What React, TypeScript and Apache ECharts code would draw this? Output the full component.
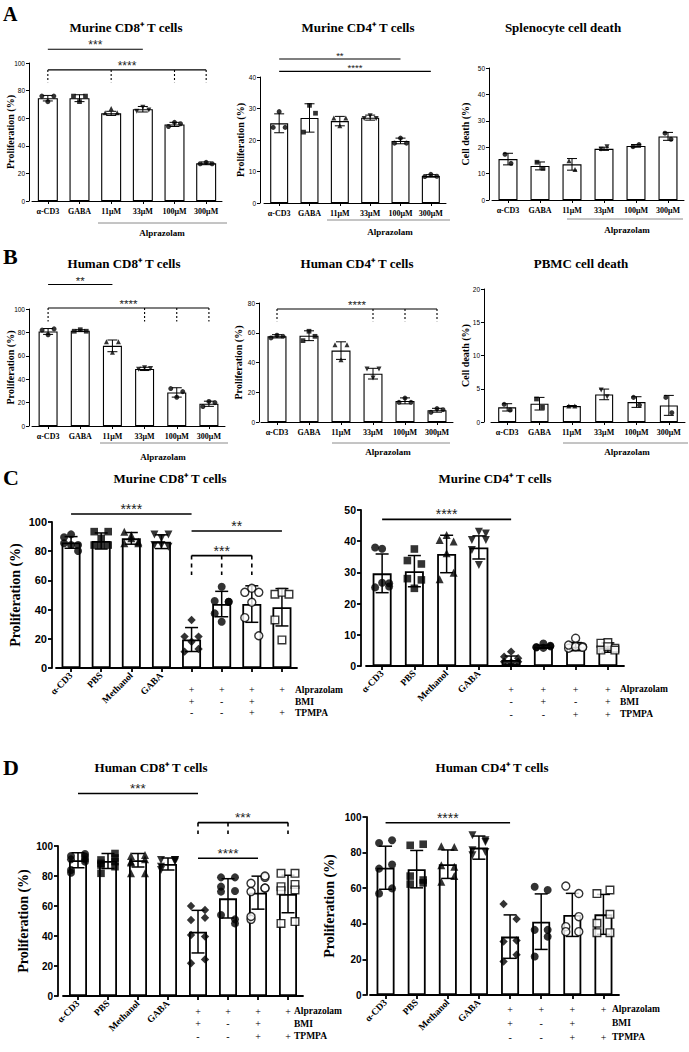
import React, { useEffect, useRef } from "react";
import * as echarts from "echarts";

// ---------------- categories & tick labels ----------------
const doseCategories = ["α-CD3", "GABA", "11μM", "33μM", "100μM", "300μM"];
const treatmentNames = ["α-CD3", "PBS", "Methanol", "GABA", "", "", "", ""];
const plusMinusC1 = ["", "", "", "", "+\n+\n-", "+\n-\n-", "+\n+\n+", "+\n \n+"];
const plusMinusC2 = ["", "", "", "", "+\n-\n-", "+\n+\n-", "+\n-\n+", "+\n+\n+"];
const plusMinusD = ["", "", "", "", "+\n+\n-", "+\n-\n-", "+\n+\n+", "+\n \n+"];
const tableRowNames = ["Alprazolam", "BMI", "TPMPA"];
const alprazolamLabel = "Alprazolam";

// ---------------- A: murine dose response ----------------
const murineCD8DoseMean = [74.5, 74.5, 63.5, 66.5, 55.5, 27.3];
const murineCD8DoseSd = [2, 2.5, 1.5, 2, 1.5, 1];
const murineCD8DosePoints = [[76, 72, 76], [76, 72, 76], [64, 67, 64], [65, 68, 66], [54, 57, 56], [27, 28, 27]];
const murineCD8DoseBrackets = [
  { from: 0, to: 3, y: 110, label: "***" },
  { from: 0, to: 5, y: 95, drops: [0, 2, 4, 5], dropTo: 86, label: "****" },
];

const murineCD4DoseMean = [25.3, 27, 26, 27.1, 19.7, 8.6];
const murineCD4DoseSd = [3, 4.5, 1.5, 0.8, 0.9, 0.4];
const murineCD4DosePoints = [[24, 29, 24], [22.5, 31, 28.5], [27, 24.5, 27], [26.8, 27.7, 26.8], [19, 20.6, 19], [8.4, 9.1, 8.5]];
const murineCD4DoseBrackets = [
  { from: 0, to: 4, y: 45.7, label: "**" },
  { from: 0, to: 5, y: 41.8, label: "****" },
];

const splenocyteDeathMean = [15.5, 12.9, 13.5, 19.4, 20.5, 24.1];
const splenocyteDeathSd = [2.2, 1.5, 2.2, 0.6, 0.5, 1.5];
const splenocyteDeathPoints = [[17.3, 13.9], [14.3, 12], [14.9, 11.6], [19.2, 20.2], [20.2, 21], [25.3, 23]];

// ---------------- B: human dose response ----------------
const humanCD8DoseMean = [80.8, 81.5, 68.5, 48.8, 28.7, 19];
const humanCD8DoseSd = [2.5, 0.8, 5, 1.4, 4, 2.2];
const humanCD8DosePoints = [[82, 78, 83], [81, 82.3, 81], [72, 63, 72], [48.6, 49.7, 49.1], [32, 24.6, 29.4], [16.6, 21, 20]];
const humanCD8DoseBrackets = [
  { from: 0, to: 2, y: 120.9, label: "**" },
  { from: 0, to: 5, y: 100.9, drops: [0, 3, 4, 5], dropTo: 89.4, label: "****" },
];

const humanCD4DoseMean = [57.6, 58, 48, 32.5, 14.2, 7.9];
const humanCD4DoseSd = [1.1, 3.3, 5.9, 3.6, 2, 1.3];
const humanCD4DosePoints = [[56.5, 58.3, 57.6], [54.7, 61, 57.6], [52, 41.9, 52], [35.6, 29.6, 35.6], [13.2, 16.1, 13.2], [6.5, 9, 8.3]];
const humanCD4DoseBrackets = [
  { from: 0, to: 5, y: 76, drops: [0, 3, 4, 5], dropTo: 67.7, label: "****" },
];

const pbmcDeathMean = [2.2, 2.75, 2.4, 4.15, 3.0, 2.5];
const pbmcDeathSd = [0.55, 0.95, 0.08, 0.8, 0.8, 1.5];
const pbmcDeathPoints = [[2.66, 1.8], [3.46, 2.2], [2.4, 2.4], [4.8, 3.8], [3.7, 2.55], [3.7, 1.4]];

// ---------------- C: murine, antagonists ----------------
const murineCD8TreatMean = [86, 87, 88.8, 86.5, 19.5, 43.8, 43.8, 41.6];
const murineCD8TreatSd = [4, 5.5, 4, 4.7, 8.2, 8.7, 12.5, 12.8];
const murineCD8TreatPoints = [
  [89.5, 91.5, 84.2, 85.4, 84.2, 80.1],
  [93.4, 88.8, 93.4, 84.2, 84.2, 84.2],
  [93.4, 91, 86.5, 85.4, 88.8, 85.4],
  [91.5, 88.8, 91.5, 84.2, 84.2, 83.1],
  [21.5, 32.9, 21.5, 11.2, 18, 13],
  [45.9, 55.7, 45.4, 37.4, 31.7, 45.4],
  [51.8, 54.6, 51.8, 34.5, 45, 22.1],
  [50.5, 51.8, 50.5, 32.9, 19.2],
];
const murineCD8TreatBrackets = [
  { from: 0, to: 4, y: 105.5, label: "****" },
  { from: 4, to: 7, y: 93.8, label: "**" },
  { from: 4, to: 6, y: 77, drops: [4, 5, 6], dropTo: 63.7, label: "***" },
];

const murineCD4TreatMean = [29.7, 30.4, 35.9, 38, 1.9, 6.2, 6.2, 5.9];
const murineCD4TreatSd = [6.2, 5, 6, 3.7, 1.3, 0.5, 1.3, 1.5];
const murineCD4TreatPoints = [
  [38, 37.6, 26.5, 25.2, 26.7, 25.5],
  [33.8, 37.5, 32.7, 28, 24.9, 27.6],
  [40.4, 42, 39.9, 27.8, 36.1, 29.9],
  [40.4, 43, 40.4, 37.2, 32.4, 42.5],
  [3, 4.6, 2.5, 1.4, 1.1, 1.4],
  [6, 7.2, 6.5, 6, 5.8, 6.3],
  [5.7, 8.9, 6.2, 6.7, 6.2, 6],
  [7.3, 7.5, 5.7, 5.1, 6.2, 5.1],
];
const murineCD4TreatBrackets = [{ from: 0, to: 4, y: 47, label: "****" }];

// ---------------- D: human, antagonists ----------------
const humanCD8TreatMean = [90.5, 90, 90.5, 88, 42.9, 65.1, 68.9, 68];
const humanCD8TreatSd = [5, 5, 4.5, 4, 14.2, 13.1, 11, 12.5];
const humanCD8TreatPoints = [
  [93.3, 94.7, 91.1, 89.6, 84, 91.1, 82.2, 93],
  [90.7, 95, 88.4, 89.6, 87.3, 86.2, 81.8, 92],
  [93.3, 94, 89.6, 91.1, 81.8, 81.8, 89],
  [90.7, 90.7, 86.2, 89.6, 84, 90.7],
  [60, 57.3, 50.7, 52.2, 40.7, 39.6, 21.8, 24.4],
  [79.1, 79.1, 72.9, 70, 69.6, 51.1, 54, 48.4],
  [75.1, 79.1, 69.6, 71.8, 51.1, 72, 53, 80],
  [81.8, 81.8, 72.9, 74.4, 70.2, 70.7, 48.4, 49.6],
];
const humanCD8TreatBrackets = [
  { from: 0, to: 4, y: 135, label: "***" },
  { from: 4, to: 7, y: 115.6, drops: [4, 5, 7], dropTo: 108, label: "***" },
  { from: 4, to: 6, y: 91.8, label: "****" },
];

const humanCD4TreatMean = [71.5, 70.7, 73.5, 82.8, 32.8, 41.2, 45, 45.3];
const humanCD4TreatSd = [12.1, 10.5, 8, 6.5, 12.2, 15.6, 12.1, 11.2];
const humanCD4TreatPoints = [
  [85.4, 86.9, 71, 73.3, 57, 59.9],
  [84.1, 84.7, 66.8, 64.6, 62.3, 63],
  [83.6, 83.2, 72.9, 72, 63.6, 66.8],
  [89.7, 86, 81.3, 87, 78.5, 80.4],
  [51.1, 42.7, 30, 30.6, 18.8, 22.6],
  [60.8, 59, 36.6, 36.6, 21.6, 32.8],
  [61.2, 57, 38.4, 44, 35.6, 35.6],
  [57, 59, 40.3, 45.3, 35, 35],
];
const humanCD4TreatBrackets = [{ from: 0, to: 4, y: 96.8, label: "****" }];

// ---------------- styling / layout ----------------
const SERIF = "'Liberation Serif', 'Times New Roman', serif";
const SANS = "'Liberation Sans', Arial, sans-serif";

const doseStyle = {
  axisWidth: 1, tickLen: 3, barBorder: 1.1, errWidth: 1, cap: 10, symbolSize: 5,
  tickFont: 6.5, tickWeight: "normal", xFont: 8, xMargin: 6, yMargin: 4, nameSize: 10,
  bracketWidth: 1.1, dash: [2, 2], starGap: 4,
};
const treatStyle = {
  axisWidth: 1.8, tickLen: 4, barBorder: 1.8, errWidth: 1.5, cap: 13, symbolSize: 8,
  tickFont: 11, tickWeight: "bold", xFont: 9.5, xMargin: 6, yMargin: 5, nameSize: 14,
  bracketWidth: 1.6, dash: [4, 4], starGap: 5,
};

const circle = { symbol: "circle" };
const square = { symbol: "rect", scale: 0.95 };
const tri = { symbol: "triangle" };
const triDown = { symbol: "triangle", rotate: 180 };
const diamond = { symbol: "diamond", scale: 1.05 };
const openCircle = { symbol: "circle", open: true };
const openSquare = { symbol: "rect", open: true, scale: 0.95 };
const doseSymbols = [circle, square, tri, triDown, circle, circle];
const treatSymbols = [circle, square, tri, triDown, diamond, circle, openCircle, openSquare];

const panels: any[] = [
  { kind: "dose", grid: { left: 32, top: 63, width: 190, height: 138 }, yOffset: 3, yMax: 100, yInterval: 20,
    yName: "Proliferation (%)", nameGap: 14, means: murineCD8DoseMean, sds: murineCD8DoseSd, points: murineCD8DosePoints,
    brackets: murineCD8DoseBrackets, jitter: [-6, 0, 6], barWidth: 20, starSize: 12 },
  { kind: "dose", grid: { left: 264, top: 77, width: 182, height: 126 }, yOffset: 4, yMax: 40, yInterval: 10,
    yName: "Proliferation (%)", nameGap: 15, means: murineCD4DoseMean, sds: murineCD4DoseSd, points: murineCD4DosePoints,
    brackets: murineCD4DoseBrackets, jitter: [-6, 0, 6], barWidth: 18, starSize: 9.5 },
  { kind: "dose", grid: { left: 492, top: 68, width: 192, height: 132 }, yOffset: 3, yMax: 50, yInterval: 10,
    yName: "Cell death (%)", nameGap: 19, means: splenocyteDeathMean, sds: splenocyteDeathSd, points: splenocyteDeathPoints,
    brackets: [], jitter: [-3, 3], barWidth: 19, starSize: 10 },
  { kind: "dose", grid: { left: 32, top: 309, width: 193, height: 117 }, yOffset: 3, yMax: 100, yInterval: 20,
    yName: "Proliferation (%)", nameGap: 14, means: humanCD8DoseMean, sds: humanCD8DoseSd, points: humanCD8DosePoints,
    brackets: humanCD8DoseBrackets, jitter: [-6, 0, 6], barWidth: 19, starSize: 11.5 },
  { kind: "dose", grid: { left: 261, top: 303, width: 192, height: 119 }, yOffset: 2, yMax: 80, yInterval: 20,
    yName: "Proliferation (%)", nameGap: 16, means: humanCD4DoseMean, sds: humanCD4DoseSd, points: humanCD4DosePoints,
    brackets: humanCD4DoseBrackets, jitter: [-6, 0, 6], barWidth: 19, starSize: 11.5 },
  { kind: "dose", grid: { left: 491, top: 289, width: 194, height: 133 }, yOffset: 7, yMax: 20, yInterval: 5,
    yName: "Cell death (%)", nameGap: 14, means: pbmcDeathMean, sds: pbmcDeathSd, points: pbmcDeathPoints,
    brackets: [], jitter: [-3, 3], barWidth: 18, starSize: 10 },
  { kind: "treat", grid: { left: 56, top: 522, width: 241, height: 146 }, yOffset: 4, yMax: 100, yInterval: 20,
    yName: "Proliferation (%)", nameGap: 30, means: murineCD8TreatMean, sds: murineCD8TreatSd, points: murineCD8TreatPoints,
    brackets: murineCD8TreatBrackets, jitter: [-7, 0, 7], barWidth: 19, starSize: 14,
    plusMinus: plusMinusC1, pmMargin: 16, pmLineHeight: 11.5, tickFont: 11 },
  { kind: "treat", grid: { left: 366, top: 510, width: 258, height: 156 }, yOffset: 5, yMax: 50, yInterval: 10,
    yName: "", nameGap: 30, means: murineCD4TreatMean, sds: murineCD4TreatSd, points: murineCD4TreatPoints,
    brackets: murineCD4TreatBrackets, jitter: [-7, 0, 7], barWidth: 19, starSize: 14,
    plusMinus: plusMinusC2, pmMargin: 17, pmLineHeight: 12.5, tickFont: 10.5 },
  { kind: "treat", grid: { left: 63, top: 846, width: 240, height: 150 }, yOffset: 5, yMax: 100, yInterval: 20,
    yName: "Proliferation (%)", nameGap: 28, means: humanCD8TreatMean, sds: humanCD8TreatSd, points: humanCD8TreatPoints,
    brackets: humanCD8TreatBrackets, jitter: [-7, 7], barWidth: 18, starSize: 13.5,
    plusMinus: plusMinusD, pmMargin: 9, pmLineHeight: 12.5, tickFont: 10 },
  { kind: "treat", grid: { left: 370, top: 817, width: 249, height: 178 }, yOffset: 3.5, yMax: 100, yInterval: 20,
    yName: "Proliferation (%)", nameGap: 30, means: humanCD4TreatMean, sds: humanCD4TreatSd, points: humanCD4TreatPoints,
    brackets: humanCD4TreatBrackets, jitter: [-6.5, 6.5], barWidth: 18, starSize: 14,
    plusMinus: plusMinusD, pmMargin: 7, pmLineHeight: 14, tickFont: 10 },
];

const titles = [
  { text: "Murine CD8⁺ T cells", x: 126, y: 27 },
  { text: "Murine CD4⁺ T cells", x: 358, y: 27 },
  { text: "Splenocyte cell death", x: 563, y: 27 },
  { text: "Human CD8⁺ T cells", x: 124, y: 263 },
  { text: "Human CD4⁺ T cells", x: 357, y: 263 },
  { text: "PBMC cell death", x: 581, y: 263 },
  { text: "Murine CD8⁺ T cells", x: 170, y: 478 },
  { text: "Murine CD4⁺ T cells", x: 495, y: 478 },
  { text: "Human CD8⁺ T cells", x: 151, y: 767 },
  { text: "Human CD4⁺ T cells", x: 492, y: 767 },
];
const panelLetters = [
  { text: "A", x: 3, y: 14, size: 20 },
  { text: "B", x: 3, y: 256, size: 22 },
  { text: "C", x: 3, y: 477, size: 22 },
  { text: "D", x: 3, y: 767, size: 22 },
];
const doseUnderlines = [
  { x1: 98, x2: 227, y: 223, tx: 162, ty: 233 },
  { x1: 327, x2: 450, y: 220, tx: 390, ty: 232 },
  { x1: 567, x2: 683, y: 219, tx: 627, ty: 230 },
  { x1: 100, x2: 228, y: 443, tx: 163, ty: 457 },
  { x1: 332, x2: 450, y: 443, tx: 388, ty: 452 },
  { x1: 563, x2: 688, y: 443, tx: 627, ty: 452 },
];
const tableLabelPos = [
  { x: 295, ys: [690, 701.5, 713] },
  { x: 620, ys: [689, 701.5, 714] },
  { x: 294, ys: [1011, 1023.5, 1036] },
  { x: 612, ys: [1009, 1023, 1037] },
];

// ---------------- renderers ----------------
const errorBarRenderer = (st: any) => (params: any, api: any) => {
  const x = api.value(0);
  const a = api.coord([x, api.value(1)]);
  const b = api.coord([x, api.value(2)]);
  const h = st.cap / 2;
  const mk = () => ({ stroke: "#000", lineWidth: st.errWidth, fill: null });
  return {
    type: "group",
    children: [
      { type: "line", shape: { x1: a[0], y1: a[1], x2: b[0], y2: b[1] }, style: mk() },
      { type: "line", shape: { x1: a[0] - h, y1: a[1], x2: a[0] + h, y2: a[1] }, style: mk() },
      { type: "line", shape: { x1: b[0] - h, y1: b[1], x2: b[0] + h, y2: b[1] }, style: mk() },
    ],
  };
};

const bracketRenderer = (defs: any[], st: any, starSize: number) => (params: any, api: any) => {
  const b = defs[params.dataIndex];
  const l = api.coord([b.from, b.y]);
  const r = api.coord([b.to, b.y]);
  const children: any[] = [
    { type: "line", shape: { x1: l[0], y1: l[1], x2: r[0], y2: r[1] }, style: { stroke: "#000", lineWidth: st.bracketWidth } },
  ];
  (b.drops || []).forEach((d: number) => {
    const t = api.coord([d, b.y]);
    const bt = api.coord([d, b.dropTo]);
    children.push({
      type: "line",
      shape: { x1: t[0], y1: t[1], x2: bt[0], y2: bt[1] },
      style: { stroke: "#000", lineWidth: st.bracketWidth, lineDash: st.dash },
    });
  });
  children.push({
    type: "text",
    style: {
      text: b.label, x: (l[0] + r[0]) / 2, y: l[1] - st.starGap,
      textAlign: "center", textVerticalAlign: "middle",
      fontSize: starSize, fontFamily: SANS, fill: "#222",
    },
  });
  return { type: "group", children };
};

function buildOption() {
  const grid: any[] = [];
  const xAxis: any[] = [];
  const yAxis: any[] = [];
  const series: any[] = [];
  const graphic: any[] = [];

  panels.forEach((p, gi) => {
    const st: any = p.kind === "dose" ? doseStyle : treatStyle;
    const symbols = p.kind === "dose" ? doseSymbols : treatSymbols;
    grid.push({ ...p.grid, containLabel: false, outerBoundsMode: "none" });
    const xi = xAxis.length;
    xAxis.push({
      type: "category", gridIndex: gi, position: "bottom",
      data: p.kind === "dose" ? doseCategories : treatmentNames,
      axisLine: { show: true, onZero: false, lineStyle: { color: "#000", width: st.axisWidth } },
      axisTick: { show: true, alignWithLabel: true, length: st.tickLen, lineStyle: { color: "#000", width: st.axisWidth } },
      axisLabel: {
        interval: 0, rotate: p.kind === "dose" ? 0 : 45, margin: st.xMargin,
        fontFamily: SERIF, fontWeight: "bold", fontSize: st.xFont, color: "#000", hideOverlap: false,
      },
      splitLine: { show: false },
    });
    if (p.plusMinus) {
      xAxis.push({
        type: "category", gridIndex: gi, position: "bottom", data: p.plusMinus,
        axisLine: { show: false }, axisTick: { show: false }, splitLine: { show: false },
        axisLabel: {
          interval: 0, margin: p.pmMargin, lineHeight: p.pmLineHeight,
          fontFamily: SERIF, fontSize: 10, color: "#000", hideOverlap: false,
        },
      });
    }
    yAxis.push({
      type: "value", gridIndex: gi, min: 0, max: p.yMax, interval: p.yInterval, offset: p.yOffset,
      axisLine: { show: true, onZero: false, lineStyle: { color: "#000", width: st.axisWidth } },
      axisTick: { show: true, length: st.tickLen, lineStyle: { color: "#000", width: st.axisWidth } },
      axisLabel: {
        fontFamily: SANS, fontWeight: st.tickWeight, fontSize: p.tickFont || st.tickFont,
        color: "#000", margin: st.yMargin,
      },
      splitLine: { show: false },
      name: p.yName, nameLocation: "middle", nameRotate: 90, nameGap: p.nameGap, nameMoveOverlap: false,
      nameTextStyle: { fontFamily: SERIF, fontWeight: "bold", fontSize: st.nameSize, color: "#000" },
    });

    series.push({
      type: "bar", xAxisIndex: xi, yAxisIndex: gi, data: p.means, barWidth: p.barWidth,
      itemStyle: { color: "#fff", borderColor: "#000", borderWidth: st.barBorder },
      z: 2, silent: true,
    });
    series.push({
      type: "custom", xAxisIndex: xi, yAxisIndex: gi,
      data: p.means.map((m: number, i: number) => [i, m - p.sds[i], m + p.sds[i]]),
      encode: { x: 0, y: [1, 2] }, renderItem: errorBarRenderer(st), z: 3, silent: true, clip: false,
    });
    const scatterData: any[] = [];
    p.points.forEach((vals: number[], ci: number) => {
      const s: any = symbols[ci];
      vals.forEach((v, k) => {
        scatterData.push({
          value: [ci, v],
          symbol: s.symbol,
          symbolRotate: s.rotate || 0,
          symbolSize: st.symbolSize * (s.scale || 1),
          symbolOffset: [p.jitter[k % p.jitter.length], 0],
          itemStyle: s.open
            ? { color: "#fff", borderColor: "#000", borderWidth: 1.4 }
            : { color: "#000", borderWidth: 0 },
        });
      });
    });
    series.push({ type: "scatter", xAxisIndex: xi, yAxisIndex: gi, data: scatterData, z: 4, silent: true });
    if (p.brackets.length) {
      series.push({
        type: "custom", xAxisIndex: xi, yAxisIndex: gi,
        data: p.brackets.map((b: any) => [b.from, b.to, b.y]),
        encode: { x: [0, 1], y: 2 },
        renderItem: bracketRenderer(p.brackets, st, p.starSize), z: 5, silent: true, clip: false,
      });
    }
  });

  titles.forEach((t) => {
    graphic.push({
      type: "text", x: t.x, y: t.y, silent: true,
      style: { text: t.text, textAlign: "center", textVerticalAlign: "middle", fontFamily: SERIF, fontWeight: "bold", fontSize: 13, fill: "#000" },
    });
  });
  panelLetters.forEach((t) => {
    graphic.push({
      type: "text", x: t.x, y: t.y, silent: true,
      style: { text: t.text, textAlign: "left", textVerticalAlign: "middle", fontFamily: SERIF, fontWeight: "bold", fontSize: t.size, fill: "#000" },
    });
  });
  doseUnderlines.forEach((u) => {
    graphic.push({ type: "line", silent: true, shape: { x1: u.x1, y1: u.y, x2: u.x2, y2: u.y }, style: { stroke: "#8a8a8a", lineWidth: 1 } });
    graphic.push({
      type: "text", x: u.tx, y: u.ty, silent: true,
      style: { text: alprazolamLabel, textAlign: "center", textVerticalAlign: "middle", fontFamily: SERIF, fontWeight: "bold", fontSize: 9, fill: "#000" },
    });
  });
  tableLabelPos.forEach((t) => {
    tableRowNames.forEach((name, i) => {
      graphic.push({
        type: "text", x: t.x, y: t.ys[i], silent: true,
        style: { text: name, textAlign: "left", textVerticalAlign: "middle", fontFamily: SERIF, fontWeight: "bold", fontSize: 9.5, fill: "#000" },
      });
    });
  });

  return { animation: false, backgroundColor: "#fff", grid, xAxis, yAxis, series, graphic };
}

export default function App() {
  const ref = useRef<HTMLDivElement>(null);
  useEffect(() => {
    document.body.style.margin = "0";
    const chart = echarts.init(ref.current as HTMLDivElement, null, { renderer: "svg" });
    chart.setOption(buildOption() as any);
    return () => chart.dispose();
  }, []);
  return (
    <div
      ref={ref}
      style={{ position: "absolute", left: 0, top: 0, width: 689, height: 1052, background: "#fff" }}
    />
  );
}
